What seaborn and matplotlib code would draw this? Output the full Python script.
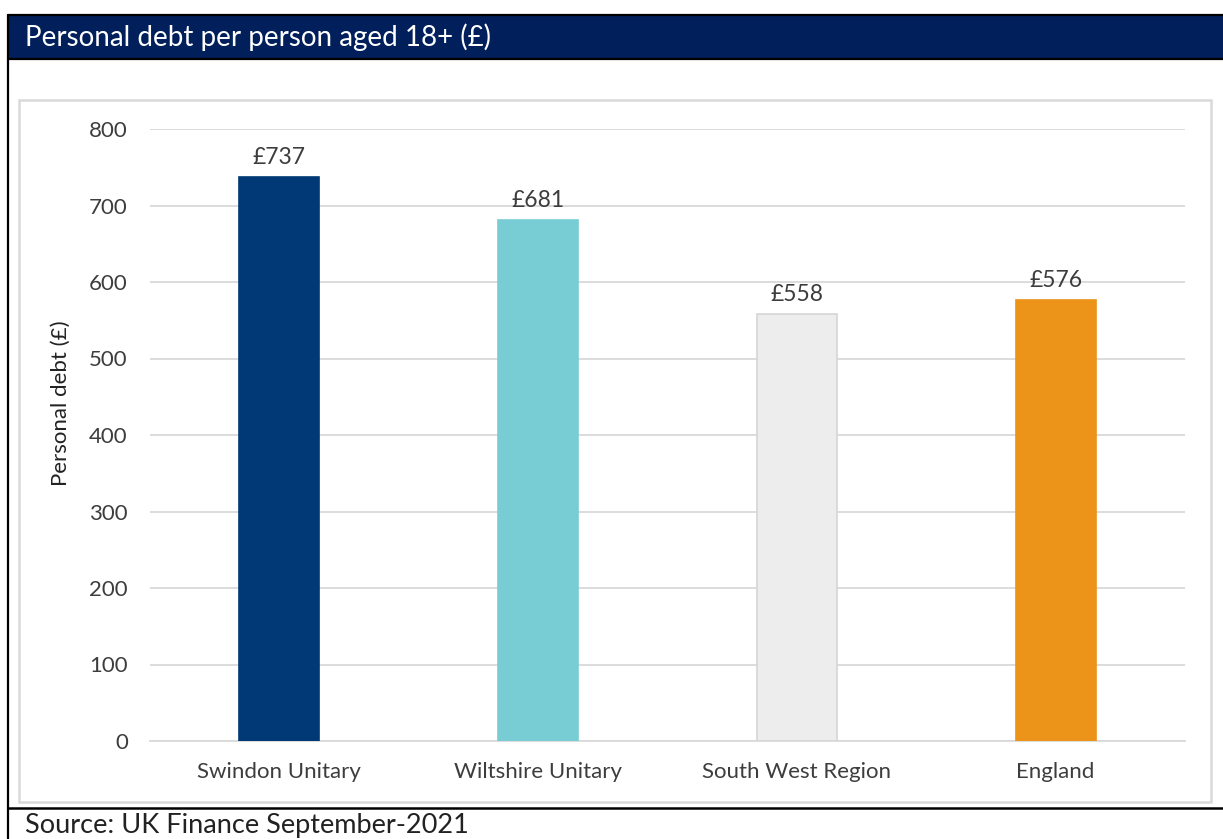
import matplotlib
matplotlib.use("Agg")
import matplotlib.pyplot as plt
from matplotlib.patches import Rectangle
from matplotlib.lines import Line2D
import seaborn as sns
import pandas as pd

# Data
areas = ["Swindon Unitary", "Wiltshire Unitary", "South West Region", "England"]
debt = [737, 681, 558, 576]
bar_colors = ["#003976", "#78CDD5", "#EDEDED", "#EC9419"]
edge_colors = ["#003976", "#78CDD5", "#D6D6D6", "#EC9419"]
yticks = [0, 100, 200, 300, 400, 500, 600, 700, 800]

title = "Personal debt per person aged 18+ (£)"
ylabel = "Personal debt (£)"
source = "Source: UK Finance September-2021"

sns.set_theme(style="white")
plt.rcParams["font.family"] = ["Lato", "DejaVu Sans"]

W, H = 1223, 839
fig = plt.figure(figsize=(W / 100, H / 100), dpi=100)
fig.patch.set_facecolor("white")


def fx(px):
    return px / W


def fy(py):
    return 1 - py / H


# Header band and frame
fig.patches.append(Rectangle((fx(8), fy(59)), fx(W - 8), fy(15) - fy(59),
                             transform=fig.transFigure, facecolor="#001F5B",
                             edgecolor="none", zorder=0))
fig.lines.append(Line2D([fx(8), 1], [fy(15), fy(15)], transform=fig.transFigure,
                        color="black", lw=1.6))
fig.lines.append(Line2D([fx(8), 1], [fy(59), fy(59)], transform=fig.transFigure,
                        color="black", lw=1.6))
fig.lines.append(Line2D([fx(8), fx(8)], [fy(15), 0], transform=fig.transFigure,
                        color="black", lw=1.6))
fig.lines.append(Line2D([fx(8), 1], [fy(807.5), fy(807.5)], transform=fig.transFigure,
                        color="black", lw=1.8))
# Light chart-area border
fig.patches.append(Rectangle((fx(19), fy(802)), fx(1211 - 19), fy(100) - fy(802),
                             transform=fig.transFigure, facecolor="none",
                             edgecolor="#D9D9D9", lw=1.8, zorder=0))

fig.text(fx(25), fy(37), title, color="white", fontsize=20,
         ha="left", va="center")
fig.text(fx(25), fy(826), source, color="#222222", fontsize=19.5,
         ha="left", va="center")

ax = fig.add_axes([fx(150), fy(741), fx(1185 - 150), fy(129) - fy(741)])
df = pd.DataFrame({"area": areas, "debt": debt})
sns.barplot(data=df, x="area", y="debt", hue="area", palette=bar_colors,
            width=0.31, legend=False, ax=ax, zorder=3, saturation=1)
for patch, ec in zip(ax.patches, edge_colors):
    patch.set_edgecolor(ec)
    patch.set_linewidth(1.2)

ax.set_xlim(-0.5, 3.5)
ax.set_ylim(0, 800)
ax.set_yticks(yticks)
ax.yaxis.grid(True, color="#D9D9D9", lw=1.3, zorder=0)
ax.set_axisbelow(True)
for s in ["top", "right", "left"]:
    ax.spines[s].set_visible(False)
ax.spines["bottom"].set_color("#D9D9D9")
ax.spines["bottom"].set_linewidth(1.3)
ax.tick_params(axis="both", length=0, labelsize=16, colors="#3d3d3d")
ax.tick_params(axis="y", pad=16)
ax.tick_params(axis="x", pad=15)
ax.set_xlabel("")
ax.set_ylabel(ylabel, fontsize=16, color="#222222")
ax.yaxis.set_label_coords(-0.076, 0.552)
ax.set_facecolor("none")

for i, v in enumerate(debt):
    ax.text(i, v + 12, f"£{v}", ha="center", va="bottom", fontsize=16.5,
            color="#3d3d3d")

fig.savefig("out.png", dpi=100, facecolor="white")
